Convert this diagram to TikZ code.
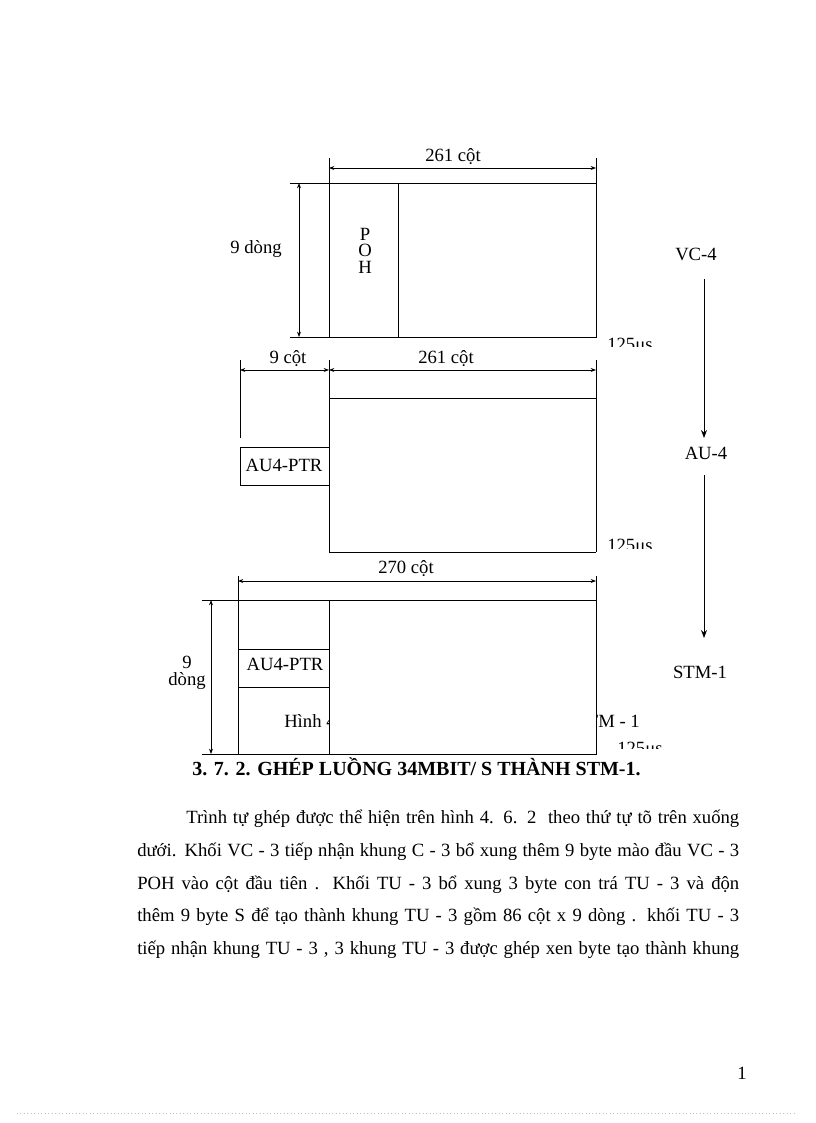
\documentclass[tikz,border=0pt]{standalone}
\usepackage{fontspec}
\setmainfont{Liberation Serif}
\usetikzlibrary{arrows.meta}
\definecolor{dotc}{RGB}{205,185,195}
\begin{document}
\begin{tikzpicture}[x=0.75pt,y=-0.75pt,
  frame/.style={line width=0.7pt},
  dim/.style={line width=0.6pt,{Stealth[length=4pt,width=3pt]}-{Stealth[length=4pt,width=3pt]}},
  flow/.style={line width=0.6pt,-{Stealth[length=6pt,width=4.5pt]}},
  lbl/.style={font=\fontsize{14}{16}\selectfont,inner sep=0pt,anchor=base},
  lblw/.style={lbl,anchor=base west},
  body/.style={font=\fontsize{14}{16}\selectfont,inner sep=0pt,anchor=base west}]
\useasboundingbox (0,0) rectangle (816,1123);
\fill[white] (0,0) rectangle (816,1123);

% ---------- VC-4 frame ----------
\draw[frame] (329,183) rectangle (596,337);
\draw[frame] (398,183) -- (398,337);
\draw[frame] (290,183) -- (329,183);
\draw[frame] (290,337) -- (329,337);
\draw[frame] (329,158) -- (329,183);
\draw[frame] (596,158) -- (596,183);
\coordinate (d1l) at (329,168);
\coordinate (d1r) at (596,168);
\draw[dim] (d1l) -- (d1r);
\node[lbl] (t1) at (453,162) {261 cột};
\coordinate (v1t) at (299,183);
\coordinate (v1b) at (299,337);
\draw[dim] (v1t) -- (v1b);
\node[lbl] (r1) at (256,253) {9 dòng};
\node[lbl] (pohP) at (365,240) {P};
\node[lbl] (pohO) at (365,256.5) {O};
\node[lbl] (pohH) at (365,273) {H};
\begin{scope}
  \clip (600,320) rectangle (680,346);
  \node[lblw] (us1) at (607,350) {125μs};
\end{scope}

% ---------- AU-4 frame ----------
\draw[frame] (240,360) -- (240,438);
\draw[frame] (329,360) -- (329,552);
\draw[frame] (596,360) -- (596,552);
\draw[frame] (329,398) -- (596,398);
\draw[frame] (329,552) -- (596,552);
\draw[frame] (329,447) -- (240,447) -- (240,485) -- (329,485);
\coordinate (d2a) at (240,370);
\coordinate (d2b) at (329,370);
\coordinate (d2c) at (596,370);
\draw[dim] (d2a) -- (d2b);
\draw[dim] (d2b) -- (d2c);
\node[lbl] (t2a) at (288,363) {9 cột};
\node[lbl] (t2b) at (446,363) {261 cột};
\node[lbl] (ptr2) at (284,471) {AU4-PTR};
\begin{scope}
  \clip (600,520) rectangle (680,548.5);
  \node[lblw] (us2) at (607,551) {125μs};
\end{scope}

% ---------- STM-1 frame ----------
\node[lblw] (hinh) at (284,727) {Hình 4};
\node[lbl,anchor=base east] (stm) at (640,727) {STM - 1};
\draw[frame,fill=white] (329,600) rectangle (596,754);
\draw[frame] (238,576) -- (238,754);
\draw[frame] (596,576) -- (596,600);
\draw[frame] (202,600) -- (329,600);
\draw[frame] (202,754) -- (329,754);
\draw[frame] (238,649) -- (329,649);
\draw[frame] (238,687) -- (329,687);
\coordinate (d3l) at (238,581);
\coordinate (d3r) at (596,581);
\draw[dim] (d3l) -- (d3r);
\node[lbl] (t3) at (406,573) {270 cột};
\coordinate (v3t) at (211,600);
\coordinate (v3b) at (211,754);
\draw[dim] (v3t) -- (v3b);
\node[lbl] (r3a) at (187,668) {9};
\node[lbl] (r3b) at (187,685) {dòng};
\node[lbl] (ptr3) at (285,670) {AU4-PTR};
\begin{scope}
  \clip (600,730) rectangle (690,748.5);
  \node[lblw] (us3) at (617,754) {125μs};
\end{scope}

% ---------- right column ----------
\node[lbl] (vc4) at (696,260) {VC-4};
\node[lbl] (au4) at (706,459) {AU-4};
\node[lbl] (stm1) at (700,678) {STM-1};
\coordinate (f1a) at (704,279);
\coordinate (f1b) at (704,438);
\coordinate (f2a) at (704,475);
\coordinate (f2b) at (704,638);
\draw[flow] (f1a) -- (f1b);
\draw[flow] (f2a) -- (f2b);

% ---------- heading ----------
\node[body,font=\bfseries\fontsize{15}{18}\selectfont] (head) at (192,775) {3. 7. 2. GHÉP LUỒNG 34MBIT/ S THÀNH STM-1.};

% ---------- paragraph ----------
\node[body] (p1) at (186,823) {\makebox[414.75pt][s]{Trình tự ghép được thể hiện trên hình 4. 6. 2 \ theo thứ tự tõ trên xuống}};
\node[body] (p2) at (137,856) {\makebox[451.5pt][s]{dưới. Khối VC - 3 tiếp nhận khung C - 3 bổ xung thêm 9 byte mào đầu VC - 3}};
\node[body] (p3) at (137,889) {\makebox[451.5pt][s]{POH vào cột đầu tiên . Khối TU - 3 bổ xung 3 byte con trá TU - 3 và độn}};
\node[body] (p4) at (137,921) {\makebox[451.5pt][s]{thêm 9 byte S để tạo thành khung TU - 3 gồm 86 cột x 9 dòng . khối TU - 3}};
\node[body] (p5) at (137,954) {\makebox[451.5pt][s]{tiếp nhận khung TU - 3 , 3 khung TU - 3 được ghép xen byte tạo thành khung}};

% ---------- footer ----------
\node[body,anchor=base] (pg) at (742,1079) {1};
\draw[dotc,dotted,line width=0.6pt] (17,1113) -- (797,1113);
\end{tikzpicture}
\end{document}
